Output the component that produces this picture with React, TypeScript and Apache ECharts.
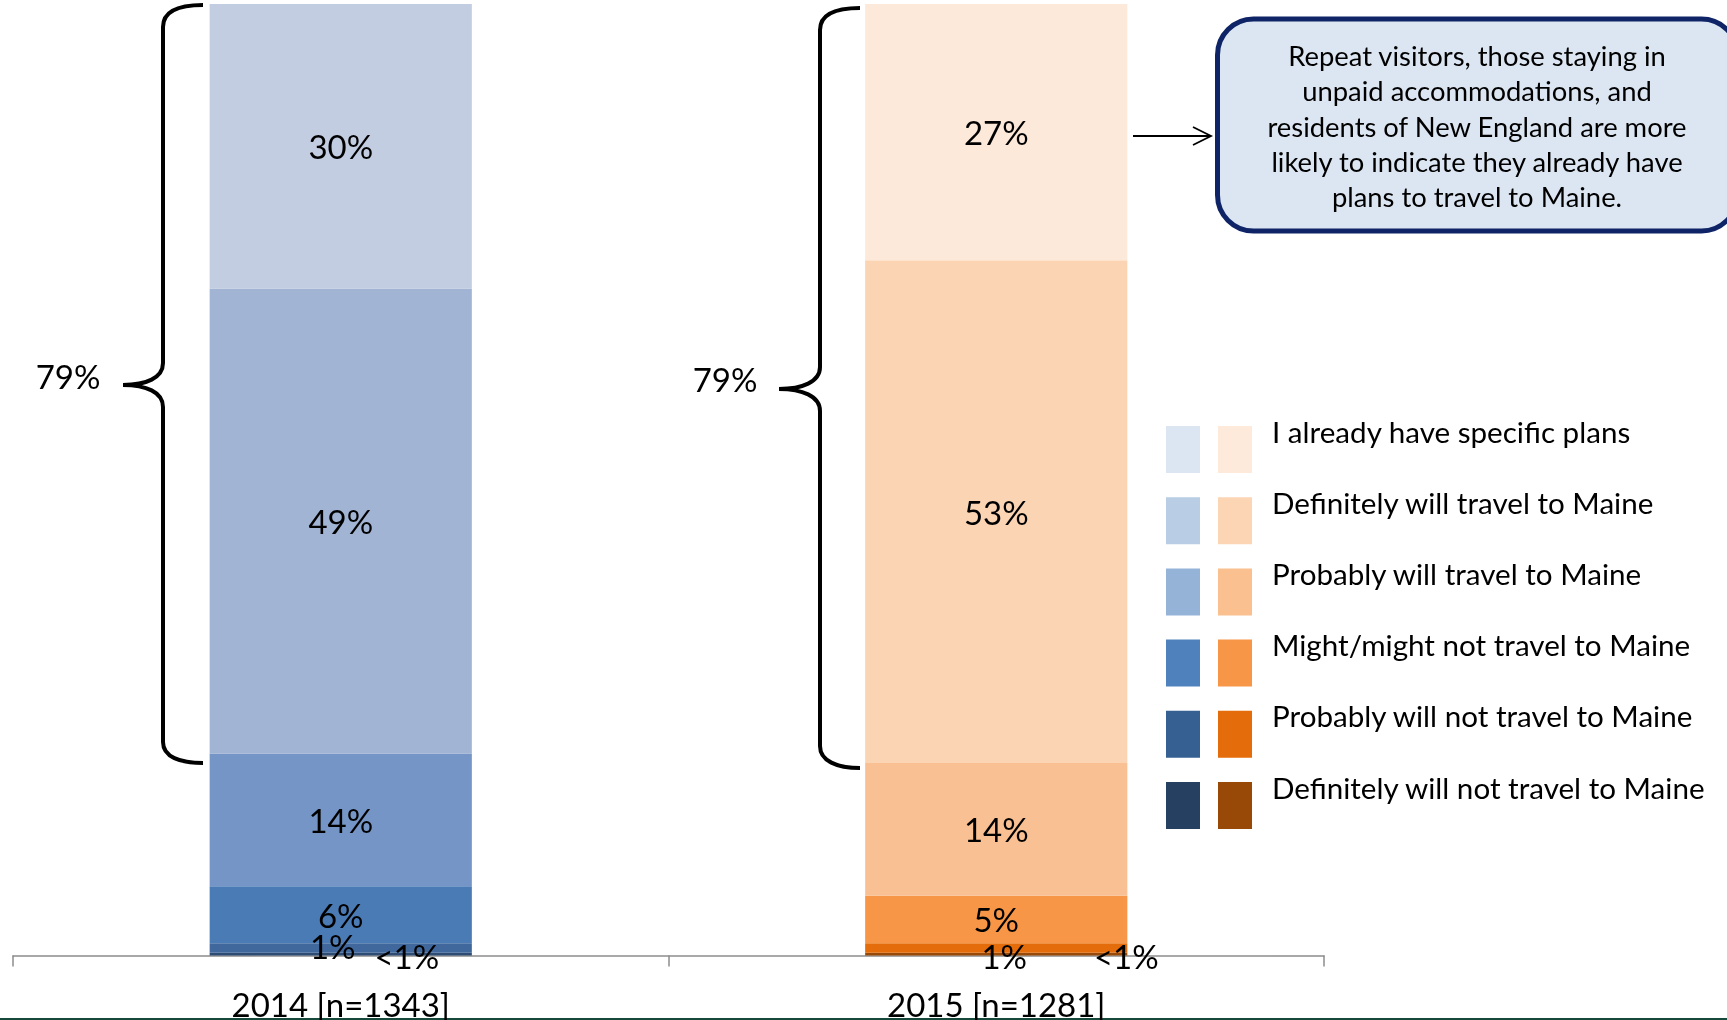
import React, { useEffect, useRef } from "react";
import * as echarts from "echarts";

// ---- data ----
const categories = ["2014 [n=1343]", "2015 [n=1281]"];
const seriesNames = [
  "Definitely will not travel to Maine",
  "Probably will not travel to Maine",
  "Might/might not travel to Maine",
  "Probably will travel to Maine",
  "Definitely will travel to Maine",
  "I already have specific plans",
];
// values per series (bottom to top of stack), [2014, 2015]
const definitelyNot = [0.3, 0.3];
const probablyNot = [1, 1];
const mightNot = [6, 5];
const probablyWill = [14, 14];
const definitelyWill = [49, 53];
const alreadyPlans = [30, 27];
const braceTotals = ["79%", "79%"];
const calloutLines = [
  "Repeat visitors, those staying in",
  "unpaid accommodations, and",
  "residents of New England are more",
  "likely to indicate they already have",
  "plans to travel to Maine.",
];

// ---- styles ----
const bar2014Colors = ["#2E4B73", "#41689C", "#4A7BB5", "#7495C5", "#A2B4D4", "#C3CDE2"];
const bar2015Colors = ["#984807", "#E46C0A", "#F79646", "#F9C193", "#FBD4B4", "#FDE9DA"];
const legend2014Colors = ["#DCE6F2", "#B9CDE5", "#95B3D7", "#4F81BD", "#376092", "#254061"];
const legend2015Colors = ["#FDEADA", "#FCD5B5", "#FAC090", "#F79646", "#E46C0A", "#984807"];
const FONT = "Lato, 'Noto Sans', sans-serif";

// label offsets for the tiny segments: [seriesIndex][categoryIndex]
const labelOffsets: Record<number, number[][]> = {
  0: [[66, 2], [130, 2]],
  1: [[-8, -2], [8, 8]],
};

echarts.graphic.registerShape(
  "brace2014",
  echarts.graphic.extendPath(
    "M203,5 C180,5 163,11 163,27 L163,363 C163,378 146,385 123,385 C146,385 163,392 163,407 L163,742 C163,757 180,763 203,763",
    {}
  )
);
echarts.graphic.registerShape(
  "brace2015",
  echarts.graphic.extendPath(
    "M860,8 C837,8 820,14 820,30 L820,367 C820,382 802,389 779,389 C802,389 820,396 820,411 L820,746 C820,761 837,768 860,768",
    {}
  )
);

export default function App() {
  const ref = useRef<HTMLDivElement>(null);
  useEffect(() => {
    if (!ref.current) return;
    const chart = echarts.init(ref.current, undefined, { renderer: "svg" });
    const stacks = [definitelyNot, probablyNot, mightNot, probablyWill, definitelyWill, alreadyPlans];
    const totals = categories.map((_, i) => stacks.reduce((s, a) => s + a[i], 0));
    const yMax = Math.max(...totals);

    const series = stacks.map((vals, si) => ({
      name: seriesNames[si],
      type: "bar",
      stack: "total",
      barWidth: "40%",
      data: vals.map((v, ci) => ({
        value: v,
        itemStyle: { color: ci === 0 ? bar2014Colors[si] : bar2015Colors[si] },
        label: labelOffsets[si] ? { offset: labelOffsets[si][ci] } : undefined,
      })),
      label: {
        show: true,
        position: "inside",
        color: "#000",
        fontFamily: FONT,
        fontSize: 33,
        formatter: (p: any) => (p.value < 1 ? "<1%" : `${Math.round(p.value)}%`),
      },
    }));

    const graphic: any[] = [];
    // braces
    graphic.push({ type: "brace2014", x: 0, y: 0, style: { fill: "none", stroke: "#000", lineWidth: 4 } });
    graphic.push({ type: "brace2015", x: 0, y: 0, style: { fill: "none", stroke: "#000", lineWidth: 4 } });
    graphic.push({
      type: "text",
      x: 68,
      y: 376,
      style: { text: braceTotals[0], fill: "#000", fontFamily: FONT, fontSize: 33, align: "center", verticalAlign: "middle" },
    });
    graphic.push({
      type: "text",
      x: 725,
      y: 379,
      style: { text: braceTotals[1], fill: "#000", fontFamily: FONT, fontSize: 33, align: "center", verticalAlign: "middle" },
    });
    // arrow
    graphic.push({ type: "line", shape: { x1: 1133, y1: 136, x2: 1210, y2: 136 }, style: { stroke: "#000", lineWidth: 1.8 } });
    graphic.push({
      type: "polyline",
      shape: { points: [[1193, 127], [1211, 136], [1193, 145]] },
      style: { stroke: "#000", lineWidth: 1.8, fill: "none" },
    });
    // callout
    graphic.push({
      type: "rect",
      shape: { x: 1217.5, y: 19, width: 520, height: 212, r: 36 },
      style: { fill: "#DCE6F2", stroke: "#0E2466", lineWidth: 5 },
    });
    graphic.push({
      type: "text",
      x: 1477,
      y: 126,
      style: {
        text: calloutLines.join("\n"),
        fill: "#000",
        fontFamily: FONT,
        fontSize: 27.4,
        lineHeight: 35.3,
        align: "center",
        verticalAlign: "middle",
      },
    });
    // legend (top to bottom)
    const legendOrder = [5, 4, 3, 2, 1, 0];
    legendOrder.forEach((si, row) => {
      const top = 426 + row * 71.2;
      graphic.push({ type: "rect", shape: { x: 1166, y: top, width: 34, height: 47 }, style: { fill: legend2014Colors[5 - si] } });
      graphic.push({ type: "rect", shape: { x: 1218, y: top, width: 34, height: 47 }, style: { fill: legend2015Colors[5 - si] } });
      graphic.push({
        type: "text",
        x: 1272,
        y: top + 5,
        style: { text: seriesNames[si], fill: "#000", fontFamily: FONT, fontSize: 29.6, verticalAlign: "middle", align: "left" },
      });
    });
    // bottom border line
    graphic.push({ type: "rect", shape: { x: 0, y: 1018, width: 1727, height: 2 }, style: { fill: "#17493A" } });

    chart.setOption({
      animation: false,
      grid: { left: 13, right: 403, top: 4, bottom: 64, containLabel: false },
      xAxis: {
        type: "category",
        data: categories,
        axisLine: { show: true, lineStyle: { color: "#8C8C8C", width: 1.5 } },
        axisTick: { show: true, length: 11, lineStyle: { color: "#8C8C8C", width: 1.5 } },
        axisLabel: { color: "#000", fontFamily: FONT, fontSize: 33, margin: 48, verticalAlign: "middle" },
      },
      yAxis: { type: "value", min: 0, max: yMax, show: false, splitLine: { show: false } },
      series,
      graphic,
    });
    return () => chart.dispose();
  }, []);
  return <div ref={ref} style={{ position: "fixed", left: 0, top: 0, width: 1727, height: 1020 }} />;
}
